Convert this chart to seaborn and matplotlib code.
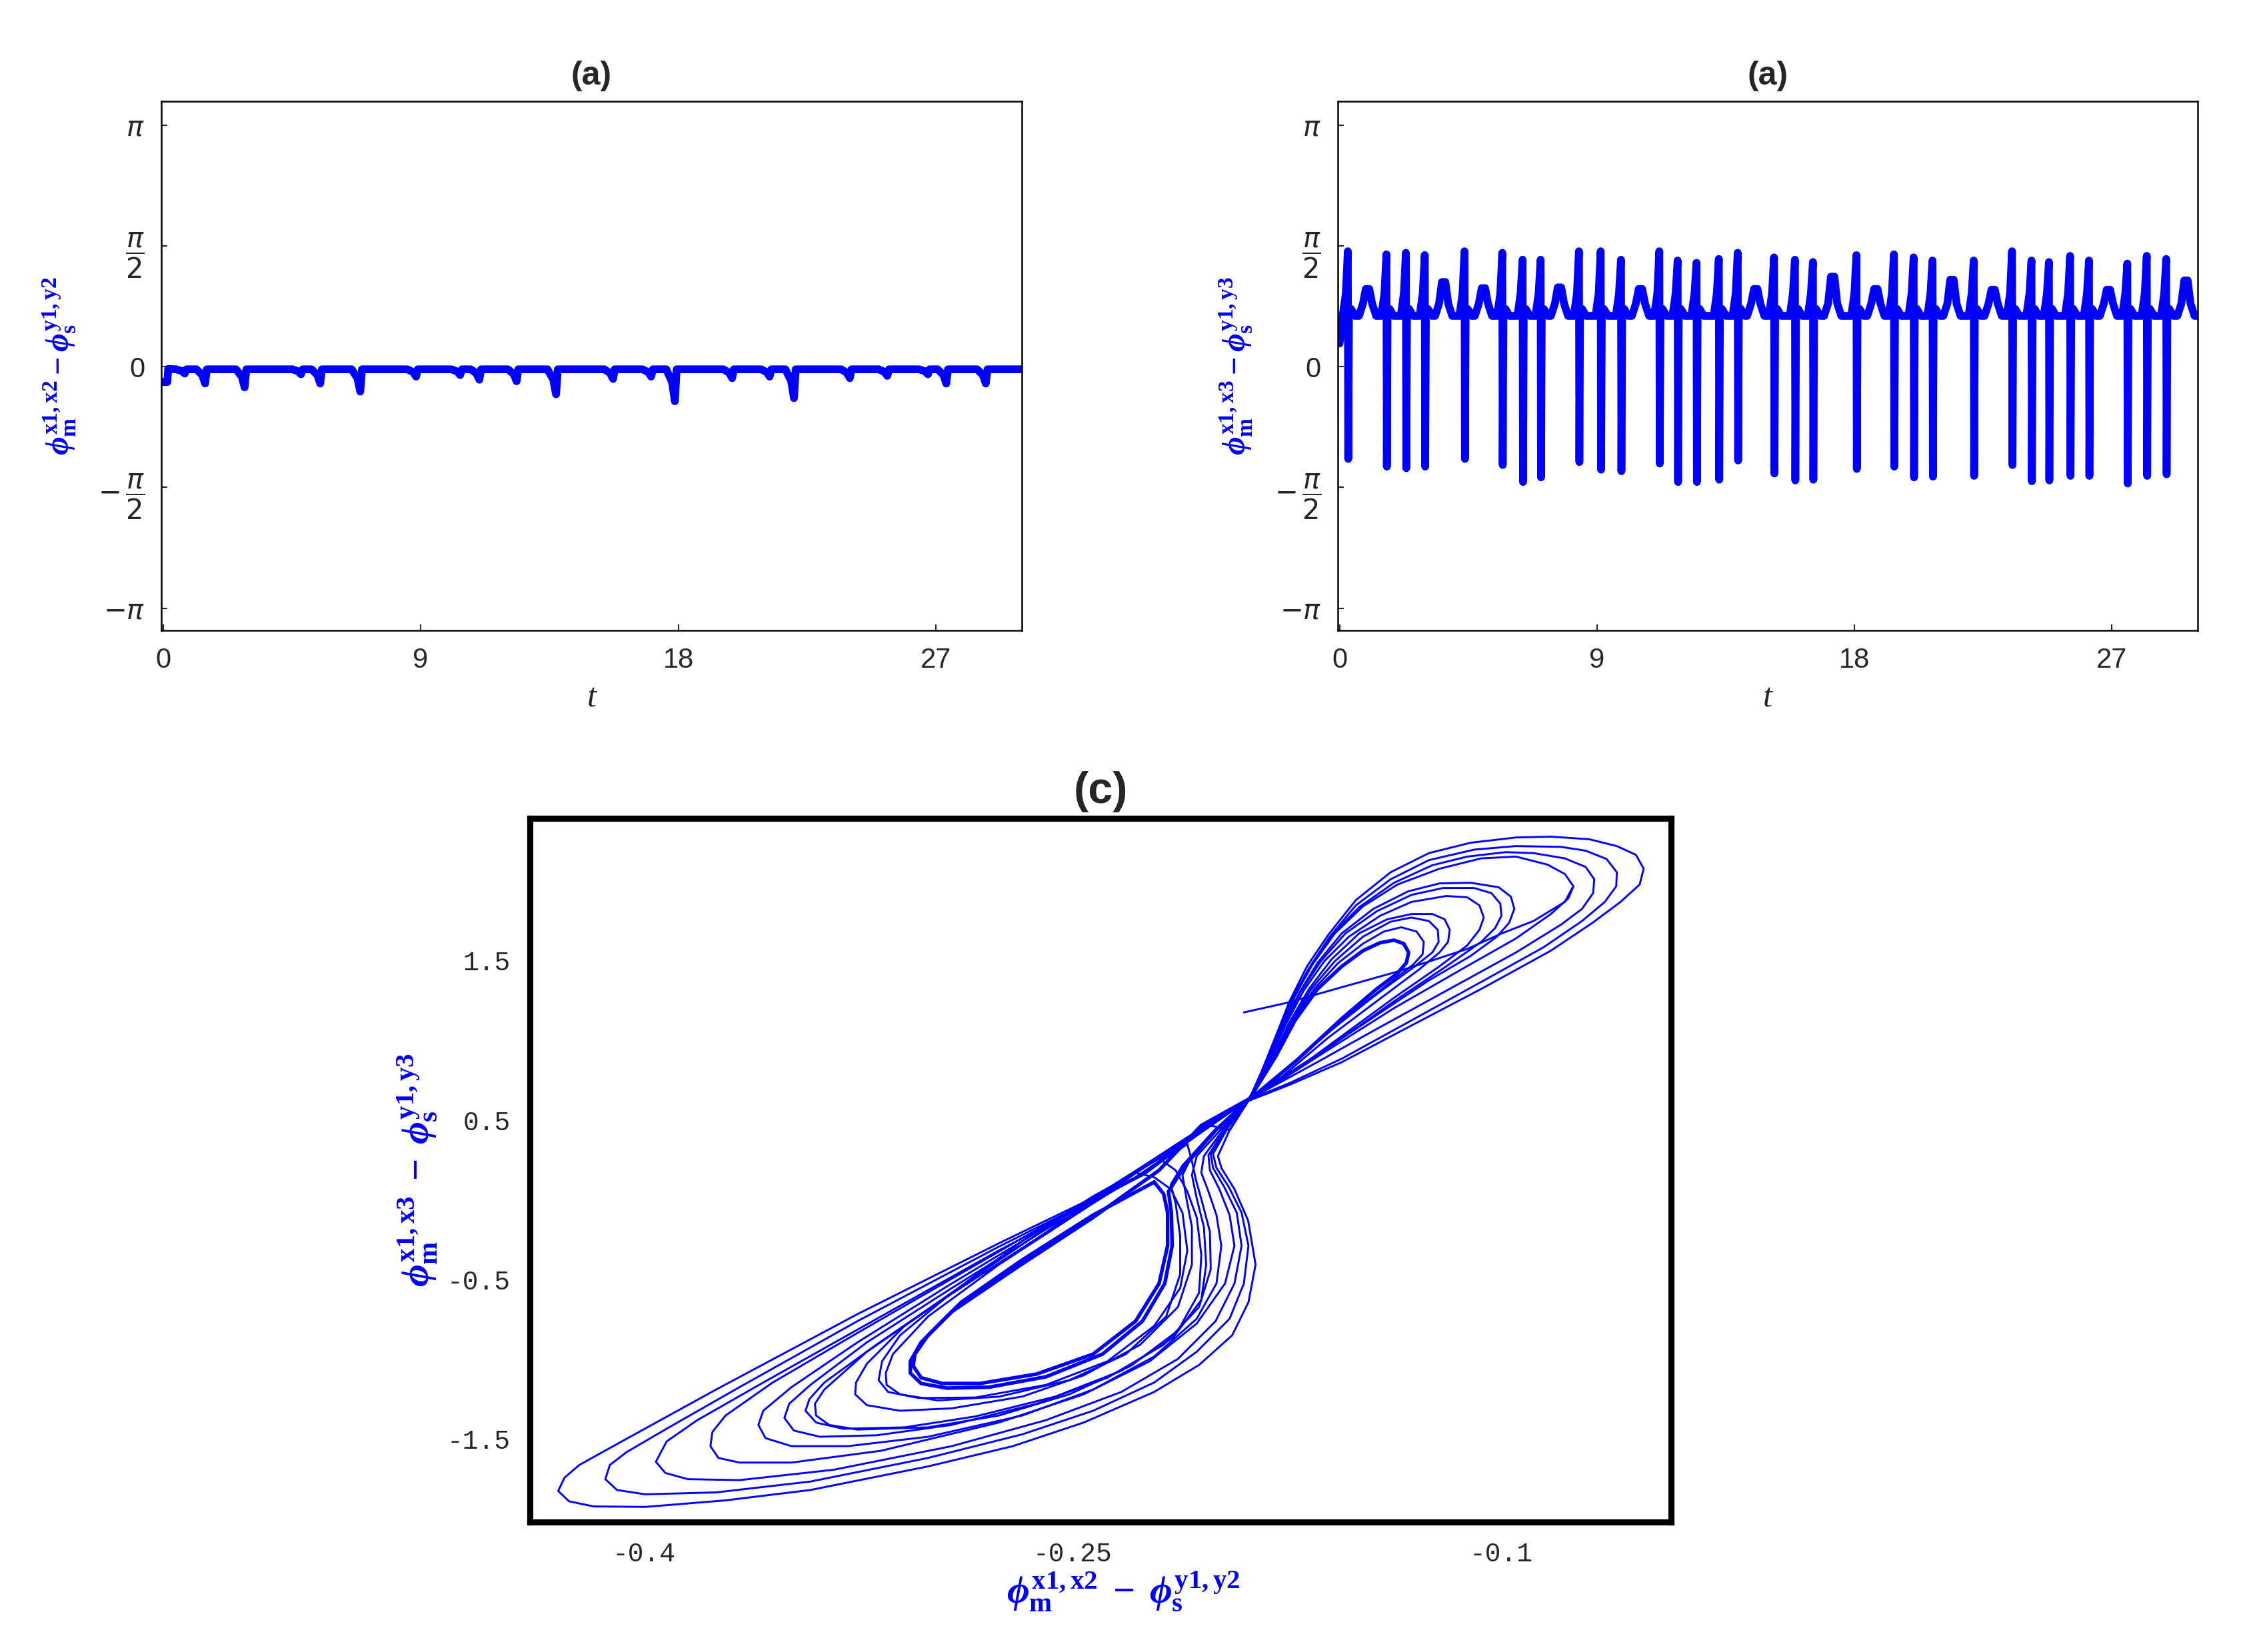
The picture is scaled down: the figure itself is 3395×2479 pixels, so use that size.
import matplotlib
matplotlib.use("Agg")
import matplotlib.pyplot as plt
from matplotlib import font_manager
import numpy as np
import pandas as pd
import seaborn as sns

BLUE = "#0000ff"

# ---------------- top-left panel: phi(x1,x2) - phi(y1,y2) vs t ----------------
left_base = -0.035
left_start_t = [0.0, 0.15, 0.18]
left_start_y = [-0.20, -0.20, -0.03]
left_dip_t = [0.76, 1.47, 2.85, 4.82, 5.49, 6.89, 8.84, 10.38, 11.05, 12.35, 13.73,
              15.72, 17.05, 17.88, 19.88, 21.19, 22.04, 23.99, 25.30, 26.72, 27.36, 28.74]
left_dip_y = [-0.09, -0.22, -0.27, -0.10, -0.22, -0.325, -0.13, -0.11, -0.17, -0.19, -0.36,
              -0.16, -0.13, -0.45, -0.15, -0.13, -0.41, -0.15, -0.12, -0.10, -0.22, -0.22]

# ---------------- top-right panel: phi(x1,x3) - phi(y1,y3) vs t ----------------
right_base = 0.66
right_after = 0.75
right_start_t = [0.0, 0.05, 0.10]
right_start_y = [0.30, 0.45, 0.62]
spike_t = [0.29, 1.64, 2.32, 2.98, 4.37, 5.69, 6.40, 7.03, 8.37, 9.13, 9.84, 11.18, 11.82,
           12.48, 13.26, 13.92, 15.19, 15.92, 16.55, 18.07, 19.38, 20.07, 20.73, 22.17,
           23.51, 24.19, 24.80, 25.54, 26.20, 27.54, 28.22, 28.90]
spike_top = [1.50, 1.46, 1.48, 1.45, 1.50, 1.48, 1.39, 1.39, 1.50, 1.50, 1.39, 1.50, 1.38,
             1.35, 1.40, 1.48, 1.42, 1.39, 1.36, 1.45, 1.46, 1.42, 1.38, 1.38,
             1.50, 1.38, 1.36, 1.44, 1.38, 1.34, 1.44, 1.40]
spike_bottom = [-1.20, -1.30, -1.32, -1.30, -1.20, -1.28, -1.50, -1.44, -1.24, -1.34, -1.36,
                -1.26, -1.50, -1.50, -1.47, -1.22, -1.39, -1.48, -1.47, -1.33, -1.30, -1.44,
                -1.43, -1.42, -1.28, -1.49, -1.48, -1.42, -1.42, -1.52, -1.42, -1.40]
bump_t = [0.98, 3.64, 5.03, 7.69, 10.52, 14.55, 17.24, 18.75, 21.41, 22.85, 26.88, 29.59]
bump_peak = [1.01, 1.10, 1.02, 1.03, 1.01, 1.01, 1.17, 1.01, 1.13, 1.00, 1.00, 1.12]

# ---------------- bottom panel (c): phase portrait ----------------
lower_loops = [
    [(-0.188, 0.634), (-0.195, 0.436), (-0.2016, 0.466), (-0.2279, 0.141), (-0.2758, -0.273),
     (-0.3253, -0.717), (-0.3748, -1.190), (-0.4078, -1.515), (-0.4227, -1.663), (-0.4279, -1.743),
     (-0.4301, -1.826), (-0.4263, -1.891), (-0.4177, -1.923), (-0.3996, -1.926), (-0.3715, -1.885),
     (-0.3418, -1.820), (-0.3006, -1.672), (-0.2709, -1.545), (-0.2461, -1.397), (-0.2214, -1.205),
     (-0.2057, -1.036), (-0.1941, -0.850), (-0.1884, -0.643), (-0.1859, -0.407), (-0.1885, -0.131),
     (-0.1933, 0.067), (-0.1978, 0.197), (-0.1991, 0.274), (-0.1950, 0.436), (-0.188, 0.634)],
    [(-0.188, 0.634), (-0.2032, 0.445), (-0.2263, 0.149), (-0.2758, -0.294), (-0.3253, -0.761),
     (-0.3666, -1.175), (-0.3913, -1.427), (-0.4062, -1.583), (-0.4120, -1.663), (-0.4136, -1.752),
     (-0.4095, -1.820), (-0.3996, -1.847), (-0.3748, -1.835), (-0.3418, -1.767), (-0.3006, -1.619),
     (-0.2676, -1.471), (-0.2428, -1.323), (-0.2214, -1.146), (-0.2065, -0.953), (-0.1950, -0.746),
     (-0.1900, -0.525), (-0.1884, -0.288), (-0.1908, -0.081), (-0.1953, 0.081), (-0.1996, 0.200),
     (-0.2008, 0.288), (-0.1958, 0.445), (-0.188, 0.634)],
    [(-0.188, 0.634), (-0.2049, 0.427), (-0.2247, 0.161), (-0.2758, -0.318), (-0.3171, -0.732),
     (-0.3583, -1.146), (-0.3814, -1.382), (-0.3921, -1.515), (-0.3959, -1.643), (-0.3926, -1.713),
     (-0.3847, -1.752), (-0.3666, -1.758), (-0.3336, -1.693), (-0.2923, -1.545), (-0.2593, -1.382),
     (-0.2329, -1.205), (-0.2131, -0.998), (-0.1999, -0.761), (-0.1933, -0.525), (-0.1908, -0.288),
     (-0.1925, -0.081), (-0.1969, 0.081), (-0.2008, 0.200), (-0.2016, 0.288), (-0.1963, 0.445),
     (-0.188, 0.634)],
    [(-0.188, 0.634), (-0.2065, 0.407), (-0.2230, 0.185), (-0.2593, -0.155), (-0.2923, -0.495),
     (-0.3253, -0.835), (-0.3550, -1.146), (-0.3715, -1.353), (-0.3761, -1.456), (-0.3768, -1.545),
     (-0.3740, -1.619), (-0.3666, -1.648), (-0.3484, -1.648), (-0.3171, -1.574), (-0.2758, -1.397),
     (-0.2461, -1.220), (-0.2230, -1.013), (-0.2065, -0.776), (-0.1966, -0.525), (-0.1933, -0.288),
     (-0.1950, -0.096), (-0.1986, 0.067), (-0.2019, 0.185), (-0.2024, 0.280), (-0.1966, 0.445),
     (-0.188, 0.634)],
    [(-0.188, 0.634), (-0.2098, 0.362), (-0.2296, 0.155), (-0.2593, -0.170), (-0.2923, -0.525),
     (-0.3253, -0.894), (-0.3484, -1.175), (-0.3583, -1.323), (-0.3600, -1.412), (-0.3575, -1.495),
     (-0.3484, -1.545), (-0.3286, -1.545), (-0.3006, -1.486), (-0.2676, -1.353), (-0.2428, -1.190),
     (-0.2214, -0.983), (-0.2065, -0.746), (-0.1996, -0.525), (-0.1979, -0.288), (-0.1996, -0.096),
     (-0.2024, 0.052), (-0.2049, 0.170), (-0.2040, 0.274), (-0.1974, 0.436), (-0.188, 0.634)],
    [(-0.2098, 0.348), (-0.2279, 0.141), (-0.2593, -0.185), (-0.2923, -0.554), (-0.3220, -0.894),
     (-0.3418, -1.161), (-0.3492, -1.279), (-0.3509, -1.368), (-0.3476, -1.447), (-0.3385, -1.486),
     (-0.3187, -1.477), (-0.2923, -1.412), (-0.2626, -1.279), (-0.2378, -1.116), (-0.2181, -0.909),
     (-0.2057, -0.673), (-0.2016, -0.436), (-0.2019, -0.200), (-0.2045, -0.022), (-0.2068, 0.126),
     (-0.2082, 0.244), (-0.2098, 0.348)],
    [(-0.188, 0.634), (-0.2065, 0.421), (-0.2263, 0.185), (-0.2593, -0.214), (-0.2923, -0.584),
     (-0.3187, -0.909), (-0.3369, -1.146), (-0.3421, -1.249), (-0.3435, -1.323), (-0.3398, -1.397),
     (-0.3303, -1.436), (-0.3088, -1.427), (-0.2841, -1.359), (-0.2560, -1.234), (-0.2329, -1.072),
     (-0.2148, -0.865), (-0.2049, -0.628), (-0.2032, -0.407), (-0.2040, -0.170), (-0.2065, 0.007),
     (-0.2082, 0.155), (-0.2065, 0.274), (-0.1983, 0.436), (-0.188, 0.634)],
    [(-0.2197, 0.259), (-0.2346, 0.096), (-0.2626, -0.244), (-0.2956, -0.628), (-0.3220, -0.953),
     (-0.3369, -1.190), (-0.3402, -1.279), (-0.3398, -1.353), (-0.3352, -1.412), (-0.3253, -1.441),
     (-0.3006, -1.427), (-0.2758, -1.353), (-0.2511, -1.220), (-0.2296, -1.042), (-0.2131, -0.821),
     (-0.2057, -0.584), (-0.2049, -0.347), (-0.2065, -0.111), (-0.2098, 0.052), (-0.2139, 0.185),
     (-0.2197, 0.259)],
    [(-0.188, 0.634), (-0.2098, 0.392), (-0.2263, 0.200), (-0.2511, -0.081), (-0.2841, -0.480),
     (-0.3088, -0.791), (-0.3220, -1.028), (-0.3258, -1.146), (-0.3261, -1.220), (-0.3220, -1.288),
     (-0.3104, -1.323), (-0.2923, -1.308), (-0.2676, -1.234), (-0.2461, -1.101), (-0.2263, -0.909),
     (-0.2131, -0.673), (-0.2082, -0.407), (-0.2082, -0.170), (-0.2101, 0.007), (-0.2115, 0.155),
     (-0.2082, 0.274), (-0.1991, 0.451), (-0.188, 0.634)],
    [(-0.2279, 0.170), (-0.2428, 0.022), (-0.2676, -0.259), (-0.2923, -0.584), (-0.3104, -0.850),
     (-0.3167, -1.013), (-0.3179, -1.131), (-0.3146, -1.205), (-0.3039, -1.243), (-0.2841, -1.240),
     (-0.2593, -1.161), (-0.2378, -1.013), (-0.2214, -0.791), (-0.2123, -0.554), (-0.2098, -0.318),
     (-0.2115, -0.081), (-0.2156, 0.067), (-0.2214, 0.141), (-0.2279, 0.170)],
    [(-0.188, 0.634), (-0.2065, 0.427), (-0.2214, 0.215), (-0.2428, -0.022), (-0.2758, -0.407),
     (-0.3006, -0.732), (-0.3129, -0.968), (-0.3154, -1.087), (-0.3151, -1.161), (-0.3104, -1.220),
     (-0.2973, -1.258), (-0.2758, -1.235), (-0.2511, -1.131), (-0.2313, -0.968), (-0.2172, -0.732),
     (-0.2123, -0.466), (-0.2123, -0.229), (-0.2139, -0.022), (-0.2156, 0.096), (-0.2115, 0.215),
     (-0.2008, 0.427), (-0.188, 0.634)],
]

inner_lower_loops = [
    [(-0.2214, 0.111), (-0.2428, -0.096), (-0.2676, -0.377), (-0.2890, -0.643), (-0.3006, -0.850),
     (-0.3052, -0.968), (-0.3058, -1.042), (-0.3030, -1.116), (-0.2956, -1.152), (-0.2824, -1.152),
     (-0.2626, -1.093), (-0.2428, -0.968), (-0.2279, -0.761), (-0.2197, -0.525), (-0.2167, -0.288),
     (-0.2167, -0.081), (-0.2181, 0.037), (-0.2214, 0.111)],
    [(-0.188, 0.634), (-0.2049, 0.466), (-0.2197, 0.185), (-0.2428, -0.111), (-0.2692, -0.421),
     (-0.2923, -0.702), (-0.3030, -0.894), (-0.3068, -1.013), (-0.3068, -1.087), (-0.3030, -1.152),
     (-0.2940, -1.181), (-0.2791, -1.175), (-0.2593, -1.110), (-0.2395, -0.968), (-0.2255, -0.761),
     (-0.2177, -0.525), (-0.2151, -0.288), (-0.2154, -0.081), (-0.2164, 0.052), (-0.2106, 0.215),
     (-0.1999, 0.436), (-0.188, 0.634)],
]

upper_loops = [
    [(-0.1880, 0.634), (-0.1837, 0.808), (-0.1788, 1.027), (-0.1740, 1.245), (-0.1679, 1.464),
     (-0.1605, 1.660), (-0.1508, 1.879), (-0.1386, 2.054), (-0.1252, 2.174), (-0.1106, 2.239),
     (-0.0947, 2.272), (-0.0825, 2.277), (-0.0691, 2.261), (-0.0594, 2.218), (-0.0527, 2.163),
     (-0.0500, 2.076), (-0.0514, 1.977), (-0.0581, 1.868), (-0.0679, 1.737), (-0.0825, 1.562),
     (-0.1069, 1.322), (-0.1313, 1.093), (-0.1557, 0.863), (-0.1740, 0.721), (-0.1880, 0.623)],
    [(-0.1880, 0.634), (-0.1831, 0.830), (-0.1782, 1.049), (-0.1733, 1.256), (-0.1672, 1.453),
     (-0.1599, 1.650), (-0.1508, 1.846), (-0.1386, 2.010), (-0.1252, 2.130), (-0.1093, 2.196),
     (-0.0947, 2.218), (-0.0789, 2.213), (-0.0703, 2.189), (-0.0630, 2.137), (-0.0594, 2.054),
     (-0.0596, 1.966), (-0.0636, 1.868), (-0.0716, 1.748), (-0.0850, 1.584), (-0.1069, 1.366),
     (-0.1313, 1.125), (-0.1557, 0.885), (-0.1740, 0.732), (-0.1880, 0.629)],
    [(-0.1880, 0.634), (-0.1825, 0.841), (-0.1776, 1.060), (-0.1727, 1.267), (-0.1666, 1.464),
     (-0.1593, 1.660), (-0.1496, 1.835), (-0.1374, 1.988), (-0.1240, 2.098), (-0.1118, 2.152),
     (-0.0984, 2.180), (-0.0886, 2.174), (-0.0776, 2.141), (-0.0703, 2.087), (-0.0673, 2.010),
     (-0.0677, 1.923), (-0.0716, 1.824), (-0.0789, 1.726), (-0.0947, 1.551), (-0.1191, 1.311),
     (-0.1435, 1.071), (-0.1654, 0.852), (-0.1800, 0.710), (-0.1880, 0.629)],
    [(-0.1880, 0.634), (-0.1825, 0.848), (-0.1770, 1.071), (-0.1721, 1.278), (-0.1660, 1.475),
     (-0.1581, 1.671), (-0.1483, 1.840), (-0.1362, 1.977), (-0.1215, 2.076), (-0.1069, 2.141),
     (-0.0947, 2.152), (-0.0837, 2.102), (-0.0776, 2.043), (-0.0746, 1.966), (-0.0764, 1.890),
     (-0.0825, 1.792), (-0.0947, 1.639), (-0.1130, 1.453), (-0.1374, 1.202), (-0.1605, 0.940),
     (-0.1776, 0.743), (-0.1880, 0.629)],
    [(-0.1880, 0.634), (-0.1819, 0.863), (-0.1764, 1.082), (-0.1709, 1.289), (-0.1642, 1.486),
     (-0.1557, 1.671), (-0.1447, 1.824), (-0.1325, 1.934), (-0.1215, 1.984), (-0.1106, 1.988),
     (-0.1008, 1.960), (-0.0965, 1.901), (-0.0953, 1.824), (-0.0971, 1.737), (-0.1014, 1.650),
     (-0.1106, 1.529), (-0.1252, 1.376), (-0.1435, 1.158), (-0.1654, 0.896), (-0.1800, 0.732),
     (-0.1880, 0.629)],
    [(-0.1880, 0.634), (-0.1815, 0.869), (-0.1758, 1.092), (-0.1703, 1.300), (-0.1630, 1.497),
     (-0.1544, 1.671), (-0.1435, 1.809), (-0.1313, 1.912), (-0.1203, 1.955), (-0.1094, 1.955),
     (-0.1033, 1.923), (-0.1002, 1.857), (-0.0998, 1.781), (-0.1020, 1.704), (-0.1069, 1.617),
     (-0.1191, 1.464), (-0.1374, 1.245), (-0.1581, 0.983), (-0.1764, 0.765), (-0.1880, 0.629)],
    [(-0.1880, 0.634), (-0.1810, 0.878), (-0.1752, 1.103), (-0.1691, 1.311), (-0.1618, 1.497),
     (-0.1532, 1.650), (-0.1423, 1.781), (-0.1313, 1.868), (-0.1191, 1.905), (-0.1118, 1.897),
     (-0.1075, 1.846), (-0.1060, 1.770), (-0.1075, 1.693), (-0.1118, 1.595), (-0.1215, 1.464),
     (-0.1374, 1.267), (-0.1557, 1.027), (-0.1740, 0.787), (-0.1880, 0.629)],
    [(-0.1880, 0.634), (-0.1803, 0.885), (-0.1740, 1.114), (-0.1672, 1.322), (-0.1593, 1.508),
     (-0.1496, 1.671), (-0.1398, 1.759), (-0.1313, 1.792), (-0.1240, 1.792), (-0.1197, 1.759),
     (-0.1179, 1.693), (-0.1185, 1.617), (-0.1215, 1.551), (-0.1288, 1.442), (-0.1435, 1.245),
     (-0.1605, 1.016), (-0.1764, 0.776), (-0.1880, 0.629)],
    [(-0.1880, 0.634), (-0.1798, 0.891), (-0.1733, 1.118), (-0.1664, 1.322), (-0.1581, 1.497),
     (-0.1483, 1.650), (-0.1386, 1.744), (-0.1313, 1.770), (-0.1252, 1.748), (-0.1221, 1.693),
     (-0.1218, 1.617), (-0.1240, 1.551), (-0.1301, 1.464), (-0.1435, 1.289), (-0.1605, 1.049),
     (-0.1764, 0.798), (-0.1880, 0.629)],
    [(-0.1880, 0.634), (-0.1794, 0.896), (-0.1727, 1.125), (-0.1654, 1.322), (-0.1569, 1.486),
     (-0.1483, 1.606), (-0.1410, 1.682), (-0.1349, 1.709), (-0.1295, 1.682), (-0.1270, 1.617),
     (-0.1274, 1.540), (-0.1307, 1.475), (-0.1386, 1.365), (-0.1532, 1.158), (-0.1703, 0.896),
     (-0.1880, 0.629)],
]

inner_upper_loops = [
    [(-0.1880, 0.634), (-0.1788, 0.900), (-0.1721, 1.125), (-0.1642, 1.322), (-0.1557, 1.464),
     (-0.1483, 1.562), (-0.1423, 1.612), (-0.1374, 1.628), (-0.1340, 1.606), (-0.1323, 1.551),
     (-0.1331, 1.486), (-0.1362, 1.420), (-0.1435, 1.322), (-0.1557, 1.136), (-0.1715, 0.874),
     (-0.1880, 0.629)],
]

transient_x = [-0.1900, -0.1752, -0.1557, -0.1362, -0.1228, -0.1118, -0.0996, -0.0886, -0.0776, -0.0750]
transient_y = [1.175, 1.234, 1.333, 1.431, 1.508, 1.573, 1.671, 1.748, 1.868, 1.955]

# tick labels
time_ticks = [0, 9, 18, 27]
phase_ticks = [np.pi, np.pi / 2, 0, -np.pi / 2, -np.pi]
phase_tick_labels = [r"$\pi$", r"$\dfrac{\pi}{2}$", "0", r"$-\,\dfrac{\pi}{2}$", r"$-\pi$"]
portrait_xticks = [-0.4, -0.25, -0.1]
portrait_xtick_labels = ["-0.4", "-0.25", "-0.1"]
portrait_yticks = [1.5, 0.5, -0.5, -1.5]
portrait_ytick_labels = ["1.5", "0.5", "-0.5", "-1.5"]


def first_font(*names):
    installed = {f.name for f in font_manager.fontManager.ttflist}
    for name in names:
        if name in installed:
            return name
    return "DejaVu Sans"


def left_series():
    t = list(left_start_t)
    y = list(left_start_y)
    for td, yd in zip(left_dip_t, left_dip_y):
        t += [td - 0.3, td - 0.1, td, td + 0.06]
        y += [left_base, left_base + (yd - left_base) * 0.4, yd, left_base]
    t.append(30.0)
    y.append(left_base)
    return t, y


def right_series():
    events = []
    for ts, top, bot in zip(spike_t, spike_top, spike_bottom):
        events.append((ts - 0.18, [ts - 0.18, ts - 0.07, ts, ts + 0.015, ts + 0.04, ts + 0.11, ts + 0.25],
                       [right_base, 0.95, top, bot, right_after, right_after, right_base]))
    for tb, peak in zip(bump_t, bump_peak):
        events.append((tb - 0.3, [tb - 0.3, tb - 0.16, tb - 0.06, tb + 0.06, tb + 0.16, tb + 0.3],
                       [right_base, 0.82, peak, peak, 0.82, right_base]))
    events.sort(key=lambda e: e[0])
    t = list(right_start_t)
    y = list(right_start_y)
    for _, et, ey in events:
        t += et
        y += ey
    t.append(30.0)
    y.append(right_base)
    return t, y


def loops_frame(loops, group):
    rows = []
    for k, loop in enumerate(loops):
        for i, (x, y) in enumerate(loop):
            rows.append({"unit": f"{group}{k}", "order": i, "x": x, "y": y})
    return pd.DataFrame(rows)


sns.set_theme(style="white")
narrow = first_font("Liberation Sans Narrow", "Liberation Sans", "DejaVu Sans")
sans = first_font("Liberation Sans", "DejaVu Sans")
mono = first_font("Liberation Mono", "DejaVu Sans Mono")
plt.rcParams["font.family"] = [narrow, "DejaVu Sans"]
plt.rcParams["mathtext.fontset"] = "custom"
plt.rcParams["mathtext.rm"] = "Liberation Serif:bold"
plt.rcParams["mathtext.it"] = "Liberation Serif:italic:bold"
plt.rcParams["mathtext.bf"] = "Liberation Serif:bold"

W, H = 3395, 2479
fig = plt.figure(figsize=(W / 300, H / 300), dpi=300)
fig.patch.set_facecolor("white")

ax_l = fig.add_axes([242 / W, 1 - 946 / H, 1291 / W, 794 / H])
ax_r = fig.add_axes([2007 / W, 1 - 946 / H, 1290 / W, 794 / H])
ax_c = fig.add_axes([795 / W, 1 - 2284 / H, 1712 / W, 1056 / H])

label_l = r"$\phi_{\mathbf{m}}^{\mathbf{x1,x2}} - \phi_{\mathbf{s}}^{\mathbf{y1,y2}}$"
label_r = r"$\phi_{\mathbf{m}}^{\mathbf{x1,x3}} - \phi_{\mathbf{s}}^{\mathbf{y1,y3}}$"
label_cx = r"$\phi_{\mathbf{m}}^{\mathbf{x1,x2}}\;-\;\phi_{\mathbf{s}}^{\mathbf{y1,y2}}$"
label_cy = r"$\phi_{\mathbf{m}}^{\mathbf{x1,x3}}\;-\;\phi_{\mathbf{s}}^{\mathbf{y1,y3}}$"

for ax, (tt, yy), ylab in [(ax_l, left_series(), label_l), (ax_r, right_series(), label_r)]:
    sns.lineplot(x=tt, y=yy, sort=False, estimator=None, color=BLUE, linewidth=2.8, ax=ax)
    ax.set_xlim(-0.06, 30)
    ax.set_ylim(-3.43, 3.45)
    ax.set_xticks(time_ticks)
    ax.set_xticklabels([str(v) for v in time_ticks])
    ax.set_yticks(phase_ticks)
    ax.set_yticklabels(phase_tick_labels)
    for lab in ax.get_yticklabels():
        lab.set_math_fontfamily("dejavusans")
    ax.tick_params(direction="in", length=2.2, width=0.5, labelsize=10, pad=6,
                   top=False, right=False, bottom=True, left=True)
    for s in ax.spines.values():
        s.set_linewidth(0.6)
        s.set_color("black")
    ax.set_title("(a)", fontsize=12, fontweight="bold", pad=6, family=sans)
    ax.set_xlabel("t", fontsize=12, fontstyle="italic", family="Liberation Serif")
    ax.xaxis.set_label_coords(0.5, -0.1)
    ax.xaxis.label.set_verticalalignment("top")
    ax.set_ylabel(ylab, fontsize=11.5, color=BLUE)
    ax.yaxis.set_label_coords(-0.097, 0.5)

# bottom phase portrait
df_outer = pd.concat([loops_frame(lower_loops, "lower"), loops_frame(upper_loops, "upper")],
                     ignore_index=True)
df_inner = pd.concat([loops_frame(inner_lower_loops, "lower"), loops_frame(inner_upper_loops, "upper")],
                     ignore_index=True)

sns.lineplot(data=df_outer, x="x", y="y", units="unit", estimator=None, sort=False,
             color=BLUE, linewidth=0.7, ax=ax_c)
sns.lineplot(data=df_inner, x="x", y="y", units="unit", estimator=None, sort=False,
             color=BLUE, linewidth=1.3, ax=ax_c)
sns.lineplot(x=transient_x, y=transient_y, sort=False, estimator=None, color=BLUE,
             linewidth=0.7, ax=ax_c)

ax_c.set_xlim(-0.44, -0.0404)
ax_c.set_ylim(-2.021, 2.392)
ax_c.set_xticks(portrait_xticks)
ax_c.set_xticklabels(portrait_xtick_labels, family=mono)
ax_c.set_yticks(portrait_yticks)
ax_c.set_yticklabels(portrait_ytick_labels, family=mono)
ax_c.tick_params(direction="in", length=1.8, width=0.5, labelsize=9.5, pad=7,
                 top=False, right=False)
for s in ax_c.spines.values():
    s.set_linewidth(2.2)
    s.set_color("black")
ax_c.set_title("(c)", fontsize=16, fontweight="bold", pad=5.5, family=sans)
ax_c.set_xlabel(label_cx, fontsize=14, color=BLUE)
ax_c.xaxis.set_label_coords(0.52, -0.068)
ax_c.xaxis.label.set_verticalalignment("top")
ax_c.set_ylabel(label_cy, fontsize=14, color=BLUE)
ax_c.yaxis.set_label_coords(-0.08, 0.5)

fig.savefig("out.png", dpi=300, facecolor="white")
